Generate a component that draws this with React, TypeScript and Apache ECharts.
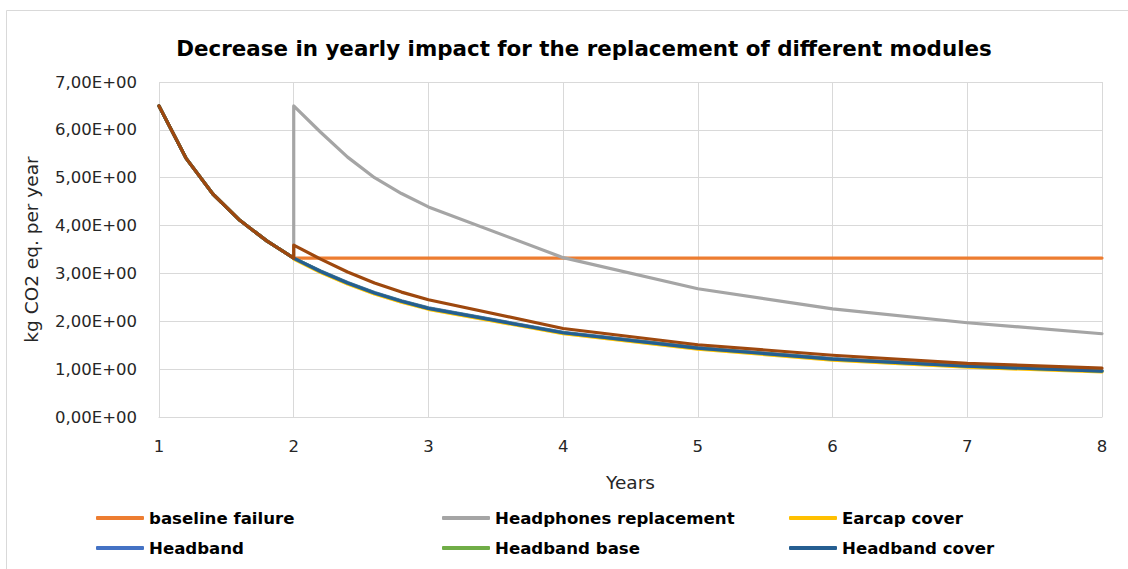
import React, { useEffect, useRef } from "react";
import * as echarts from "echarts";

// Years (x); 2 appears twice so the replacement step is drawn as a vertical jump
const years = [1, 1.2, 1.4, 1.6, 1.8, 2, 2, 2.2, 2.4, 2.6, 2.8, 3, 4, 5, 6, 7, 8];

const baselineFailure = [6.5, 5.41, 4.66, 4.11, 3.68, 3.32, 3.32, 3.32, 3.32, 3.32, 3.32, 3.32, 3.32, 3.32, 3.32, 3.32, 3.32];
const headphonesReplacement = [6.5, 5.41, 4.66, 4.11, 3.68, 3.32, 6.5, 5.95, 5.43, 5.0, 4.67, 4.39, 3.33, 2.68, 2.26, 1.97, 1.74];
const earcapCover = [6.5, 5.41, 4.66, 4.11, 3.68, 3.32, 3.3, 3.02, 2.78, 2.57, 2.4, 2.25, 1.74, 1.42, 1.19, 1.04, 0.94];
const headband = [6.5, 5.41, 4.66, 4.11, 3.68, 3.32, 3.32, 3.05, 2.81, 2.6, 2.43, 2.28, 1.77, 1.45, 1.22, 1.07, 0.97];
const headbandBase = [6.5, 5.41, 4.66, 4.11, 3.68, 3.32, 3.31, 3.04, 2.8, 2.59, 2.42, 2.27, 1.76, 1.44, 1.21, 1.06, 0.96];
const headbandCover = [6.5, 5.41, 4.66, 4.11, 3.68, 3.32, 3.31, 3.04, 2.8, 2.59, 2.42, 2.27, 1.76, 1.44, 1.21, 1.06, 0.96];
const earcaps = [6.5, 5.41, 4.66, 4.11, 3.68, 3.32, 3.59, 3.3, 3.03, 2.8, 2.61, 2.45, 1.85, 1.51, 1.29, 1.12, 1.02];

const yTicks = { min: 0, max: 7, interval: 1 };
const xTicks = { min: 1, max: 8, interval: 1 };

const FONT = "'DejaVu Sans', 'Open Sans', sans-serif";

function sci(v: number): string {
  if (v === 0) return "0,00E+00";
  const e = Math.floor(Math.log10(Math.abs(v)));
  const m = v / Math.pow(10, e);
  return m.toFixed(2).replace(".", ",") + "E" + (e < 0 ? "-" : "+") + String(Math.abs(e)).padStart(2, "0");
}

const pairs = (ys: number[]) => years.map((x, i) => [x, ys[i]]);

const seriesDefs = [
  { name: "baseline failure", data: baselineFailure, color: "#ED7D31" },
  { name: "Headphones replacement", data: headphonesReplacement, color: "#A5A5A5" },
  { name: "Earcap cover", data: earcapCover, color: "#FFC000" },
  { name: "Headband", data: headband, color: "#4472C4" },
  { name: "Headband base", data: headbandBase, color: "#70AD47" },
  { name: "Headband cover", data: headbandCover, color: "#255E91" },
  { name: "Earcaps", data: earcaps, color: "#9E480E" },
];

// legend placement: three columns, two rows
const legendSlots = [
  { name: "baseline failure", left: 96, top: 508 },
  { name: "Headphones replacement", left: 442, top: 508 },
  { name: "Earcap cover", left: 789, top: 508 },
  { name: "Headband", left: 96, top: 538 },
  { name: "Headband base", left: 442, top: 538 },
  { name: "Headband cover", left: 789, top: 538 },
];

export default function App() {
  const ref = useRef<HTMLDivElement>(null);

  useEffect(() => {
    if (!ref.current) return;
    const chart = echarts.init(ref.current, undefined, { renderer: "svg" });
    chart.setOption({
      animation: false,
      backgroundColor: "#ffffff",
      textStyle: { fontFamily: FONT },
      title: {
        text: "Decrease in yearly impact for the replacement of different modules",
        left: 579,
        top: 33,
        textAlign: "center",
        textStyle: { fontFamily: FONT, fontSize: 21.4, fontWeight: "bold", color: "#000000" },
      },
      graphic: [
        {
          type: "rect",
          shape: { x: 6.5, y: 10.5, width: 1200, height: 700 },
          style: { fill: "none", stroke: "#d9d9d9", lineWidth: 1 },
          silent: true,
          z: -1,
        },
      ],
      legend: legendSlots.map((s) => ({
        data: [s.name],
        left: s.left,
        top: s.top,
        padding: 0,
        itemWidth: 48,
        itemHeight: 4,
        itemGap: 5,
        icon: "roundRect",
        selectedMode: false,
        textStyle: { fontFamily: FONT, fontSize: 16.6, lineHeight: 20, fontWeight: "bold", color: "#000000" },
      })),
      grid: { left: 159, right: 26, top: 82, bottom: 152, containLabel: false },
      xAxis: {
        type: "value",
        ...xTicks,
        name: "Years",
        nameLocation: "middle",
        nameGap: 56,
        nameTextStyle: { fontFamily: FONT, fontSize: 18.5, color: "#262626" },
        axisLine: { show: true, lineStyle: { color: "#d9d9d9", width: 1 } },
        axisTick: { show: false },
        axisLabel: { fontFamily: FONT, fontSize: 16.5, color: "#262626", margin: 21 },
        splitLine: { show: true, lineStyle: { color: "#d9d9d9", width: 1 } },
      },
      yAxis: {
        type: "value",
        ...yTicks,
        name: "kg CO2 eq. per year",
        nameLocation: "middle",
        nameGap: 118,
        nameTextStyle: { fontFamily: FONT, fontSize: 18.5, color: "#262626" },
        axisLine: { show: false },
        axisTick: { show: false },
        axisLabel: { fontFamily: FONT, fontSize: 16.5, color: "#262626", margin: 22, formatter: (v: number) => sci(v) },
        splitLine: { show: true, lineStyle: { color: "#d9d9d9", width: 1 } },
      },
      series: seriesDefs.map((s) => ({
        name: s.name,
        type: "line",
        data: pairs(s.data),
        showSymbol: false,
        symbol: "none",
        color: s.color,
        lineStyle: { color: s.color, width: 3.2, cap: "round", join: "round" },
        emphasis: { disabled: true },
      })),
    });
    return () => chart.dispose();
  }, []);

  return <div ref={ref} style={{ position: "absolute", left: 0, top: 0, width: 1128, height: 569 }} />;
}
